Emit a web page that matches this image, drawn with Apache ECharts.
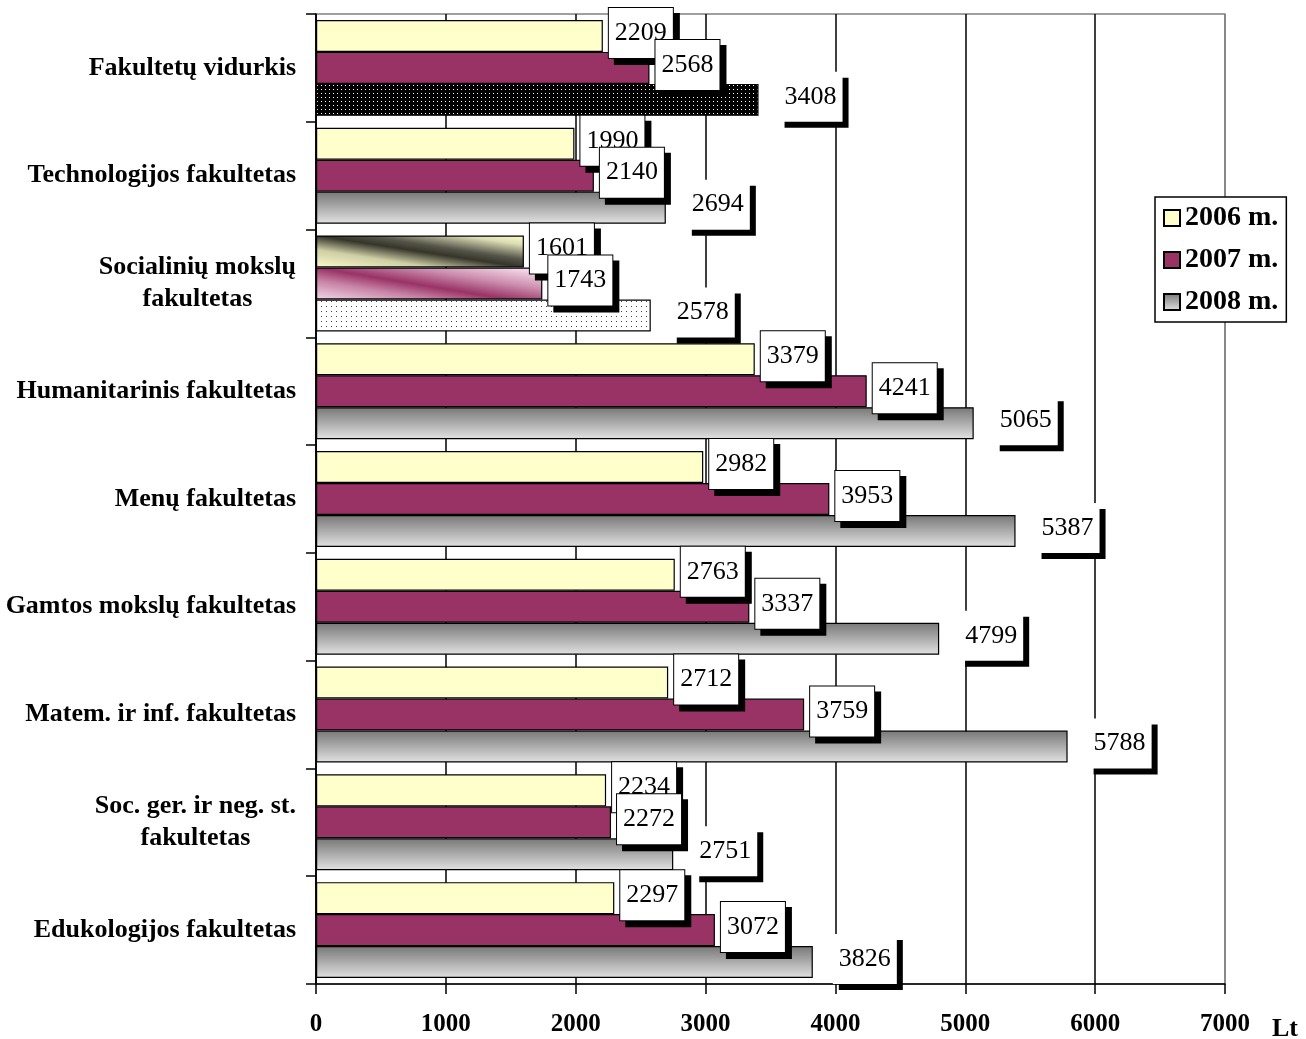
<!DOCTYPE html>
<html>
<head>
<meta charset="utf-8">
<script src="https://cdn.jsdelivr.net/npm/echarts@6/dist/echarts.min.js"></script>
<style>
  html, body { margin: 0; padding: 0; background: #ffffff; }
  #chart { width: 1306px; height: 1039px; }
</style>
</head>
<body>
<div id="chart"></div>
<script>
// Average salary by faculty (Lt), 2006–2008
const categories = [
  'Fakultetų vidurkis',
  'Technologijos fakultetas',
  'Socialinių mokslų\nfakultetas',
  'Humanitarinis fakultetas',
  'Menų fakultetas',
  'Gamtos mokslų fakultetas',
  'Matem. ir inf. fakultetas',
  'Soc. ger. ir neg. st.\nfakultetas',
  'Edukologijos fakultetas'
];
const years = ['2006 m.', '2007 m.', '2008 m.'];
const values2006 = [2209, 1990, 1601, 3379, 2982, 2763, 2712, 2234, 2297];
const values2007 = [2568, 2140, 1743, 4241, 3953, 3337, 3759, 2272, 3072];
const values2008 = [3408, 2694, 2578, 5065, 5387, 4799, 5788, 2751, 3826];
const xMin = 0, xMax = 7000, xStep = 1000;

const SERIF = '"Liberation Serif", "Times New Roman", serif';

// small repeating dot textures
function dotPattern(bg, dot, size) {
  const c = document.createElement('canvas');
  c.width = size; c.height = size;
  const g = c.getContext('2d');
  g.fillStyle = bg; g.fillRect(0, 0, size, size);
  g.fillStyle = dot; g.fillRect(1, 1, 1, 1);
  return { image: c, repeat: 'repeat' };
}

const gray = {
  type: 'linear', x: 0, y: 0, x2: 0, y2: 1,
  colorStops: [{ offset: 0, color: '#777777' }, { offset: 1, color: '#e2e2e2' }]
};
// shallow diagonal sheen: dark band runs from top-left to bottom-right
function sheen(stops) {
  return { type: 'linear', x: 0, y: 1, x2: 0.046, y2: -0.95, colorStops: stops };
}
const yellowSheen = sheen([
  { offset: 0, color: '#fafac8' },
  { offset: 0.28, color: '#cfcfa6' },
  { offset: 0.5, color: '#35352a' },
  { offset: 0.62, color: '#55554a' },
  { offset: 0.85, color: '#dcdcb4' },
  { offset: 1, color: '#ffffcc' }
]);
const plumSheen = sheen([
  { offset: 0, color: '#f2d8e6' },
  { offset: 0.3, color: '#c884a6' },
  { offset: 0.5, color: '#993366' },
  { offset: 0.75, color: '#cc8eae' },
  { offset: 1, color: '#f2d6e6' }
]);

// individually filled bars: per series, category index -> fill
const specialFills = [
  { 2: yellowSheen },
  { 2: plumSheen },
  { 0: dotPattern('#000000', '#ffffff', 4), 2: dotPattern('#ffffff', '#444444', 5) }
];

function buildData(values, seriesIdx) {
  return values.map((v, i) => {
    const f = specialFills[seriesIdx][i];
    return f ? { value: v, itemStyle: { color: f } } : v;
  });
}

function labelStyle(boxed, dist) {
  return {
    show: true,
    position: 'right',
    distance: dist,
    offset: [0, -3],
    fontFamily: SERIF,
    fontSize: 26,
    color: '#000',
    backgroundColor: '#ffffff',
    borderColor: '#000000',
    borderWidth: boxed ? 1 : 0,
    padding: [12, 6],
    shadowColor: '#000000',
    shadowOffsetX: 6,
    shadowOffsetY: 6,
    shadowBlur: 0
  };
}

const fills = ['#ffffcc', '#993366', gray];
const seriesValues = [values2006, values2007, values2008];

const series = years.map((name, s) => ({
  name: name,
  type: 'bar',
  barGap: '0%',
  barCategoryGap: '11%',
  itemStyle: { color: fills[s], borderColor: '#000000', borderWidth: 1.2 },
  label: labelStyle(s < 2, s < 2 ? 6 : 20),
  data: buildData(seriesValues[s], s)
}));

const chart = echarts.init(document.getElementById('chart'), null, { renderer: 'canvas' });
chart.setOption({
  backgroundColor: '#ffffff',
  animation: false,
  grid: {
    left: 316, right: 81, top: 14, bottom: 55,
    containLabel: false,
    outerBoundsMode: 'none',
    show: true, borderColor: '#808080', borderWidth: 1.5, backgroundColor: 'transparent'
  },
  legend: {
    orient: 'vertical',
    left: 1155, top: 197,
    padding: [7, 8, 6, 8],
    itemGap: 14,
    itemWidth: 16, itemHeight: 16,
    icon: 'rect',
    backgroundColor: '#ffffff',
    borderColor: '#000000',
    borderWidth: 1.5,
    textStyle: { fontFamily: SERIF, fontWeight: 'bold', fontSize: 28, color: '#000' },
    data: years
  },
  xAxis: {
    type: 'value',
    min: xMin, max: xMax, interval: xStep,
    name: 'Lt',
    nameLocation: 'end',
    nameGap: 47,
    nameTextStyle: {
      fontFamily: SERIF, fontWeight: 'bold', fontSize: 26, color: '#000',
      verticalAlign: 'top', padding: [32, 0, 0, 0]
    },
    axisLine: { show: true, lineStyle: { color: '#000', width: 1.5 } },
    axisTick: { show: true, length: 10, lineStyle: { color: '#000', width: 1.5 } },
    axisLabel: {
      margin: 28,
      formatter: v => String(v),
      fontFamily: SERIF, fontWeight: 'bold', fontSize: 25, color: '#000'
    },
    splitLine: {
      show: true,
      lineStyle: {
        width: 1.5,
        color: ['#000', '#000', '#000', '#000', '#000', '#000', '#000', '#808080']
      }
    }
  },
  yAxis: {
    type: 'category',
    inverse: true,
    data: categories,
    axisLine: { show: true, lineStyle: { color: '#000', width: 1.5 } },
    axisTick: { show: true, length: 10, lineStyle: { color: '#000', width: 1.5 } },
    axisLabel: {
      margin: 20,
      formatter: v => v.indexOf('\n') >= 0
        ? v.split('\n').map(s => '{c|' + s + '}').join('\n')
        : '{r|' + v + '}',
      rich: {
        c: { align: 'center', fontFamily: SERIF, fontWeight: 'bold', fontSize: 26, lineHeight: 32, color: '#000' },
        r: { fontFamily: SERIF, fontWeight: 'bold', fontSize: 26, color: '#000' }
      }
    },
    splitLine: { show: false }
  },
  series: series
});
</script>
</body>
</html>
